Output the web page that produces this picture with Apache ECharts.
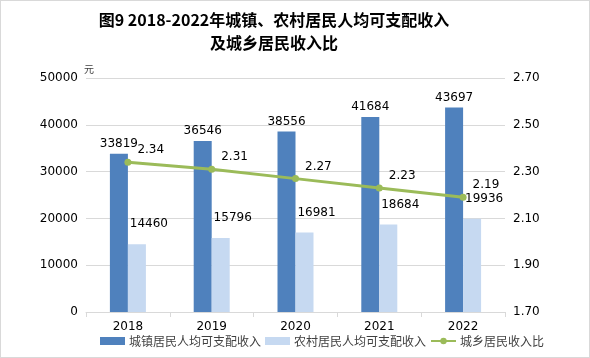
<!DOCTYPE html>
<html><head><meta charset="utf-8">
<script src="https://cdn.jsdelivr.net/npm/echarts@6/dist/echarts.min.js"></script>
<style>html,body{margin:0;padding:0;background:#fff}#c{width:588px;height:356px;border:1px solid #d9d9d9}</style>
</head><body><div id="c"></div>
<script>
const years = ['2018','2019','2020','2021','2022'];
const urban = [33819, 36546, 38556, 41684, 43697];
const rural = [14460, 15796, 16981, 18684, 19936];
const ratio = [2.34, 2.31, 2.27, 2.23, 2.19];
const seriesNames = ['城镇居民人均可支配收入','农村居民人均可支配收入','城乡居民收入比'];
const titleLines = ['图9 2018-2022年城镇、农村居民人均可支配收入','及城乡居民收入比'];

const chart = echarts.init(document.getElementById('c'));
const num = '"DejaVu Sans",sans-serif';
const cjk = '"Noto Sans CJK SC",sans-serif';
chart.setOption({
  animation:false,
  textStyle:{fontFamily:num},
  title:{text:titleLines.join('\n'),left:268,textAlign:'center',top:2,textStyle:{fontSize:16,fontWeight:'bold',color:'#000',lineHeight:23,fontFamily:cjk}},
  grid:{left:85,right:84,top:77,bottom:45},
  legend:{left:94,bottom:5,itemWidth:25,itemHeight:8,itemGap:4,textStyle:{fontSize:12,color:'#404040',fontFamily:cjk,padding:[0,0,0,-1]},
    data:[{name:seriesNames[0],icon:'rect'},{name:seriesNames[1],icon:'rect'},seriesNames[2]]},
  xAxis:{type:'category',data:years,
    axisLine:{lineStyle:{color:'#d9d9d9'}},
    axisTick:{show:true,length:5,lineStyle:{color:'#d9d9d9'}},
    axisLabel:{fontSize:12,color:'#000',margin:9,fontFamily:num}},
  yAxis:[
    {type:'value',min:0,max:50000,interval:10000,name:'元',nameGap:4,nameTextStyle:{fontSize:10,color:'#404040',align:'left',padding:[0,0,0,-2],fontFamily:cjk},
     axisLine:{show:false},axisTick:{show:false},
     splitLine:{lineStyle:{color:'#d9d9d9'}},axisLabel:{fontSize:12,color:'#000',margin:8,fontFamily:num,formatter:v=>String(v)}},
    {type:'value',min:1.7,max:2.7,interval:0.2,
     axisLine:{show:false},axisTick:{show:false},splitLine:{show:false},
     axisLabel:{fontSize:12,color:'#000',margin:8,fontFamily:num,formatter:v=>v.toFixed(2)}}
  ],
  series:[
    {name:seriesNames[0],type:'bar',data:urban,barWidth:18,barGap:'0%',itemStyle:{color:'#4f81bd'},
     label:{show:true,position:'top',distance:4,fontSize:12,color:'#000',fontFamily:num}},
    {name:seriesNames[1],type:'bar',data:rural,barWidth:18,itemStyle:{color:'#c6d9f1'},
     label:{show:true,position:'top',distance:4,offset:[12,-10],fontSize:12,color:'#000',fontFamily:num}},
    {name:seriesNames[2],type:'line',yAxisIndex:1,data:ratio,symbol:'circle',symbolSize:7,
     lineStyle:{color:'#9bbb59',width:3},itemStyle:{color:'#9bbb59'},
     label:{show:true,position:'right',distance:5,offset:[1,-12],fontSize:12,color:'#000',fontFamily:num,formatter:p=>p.value.toFixed(2)}}
  ]
});
</script></body></html>
